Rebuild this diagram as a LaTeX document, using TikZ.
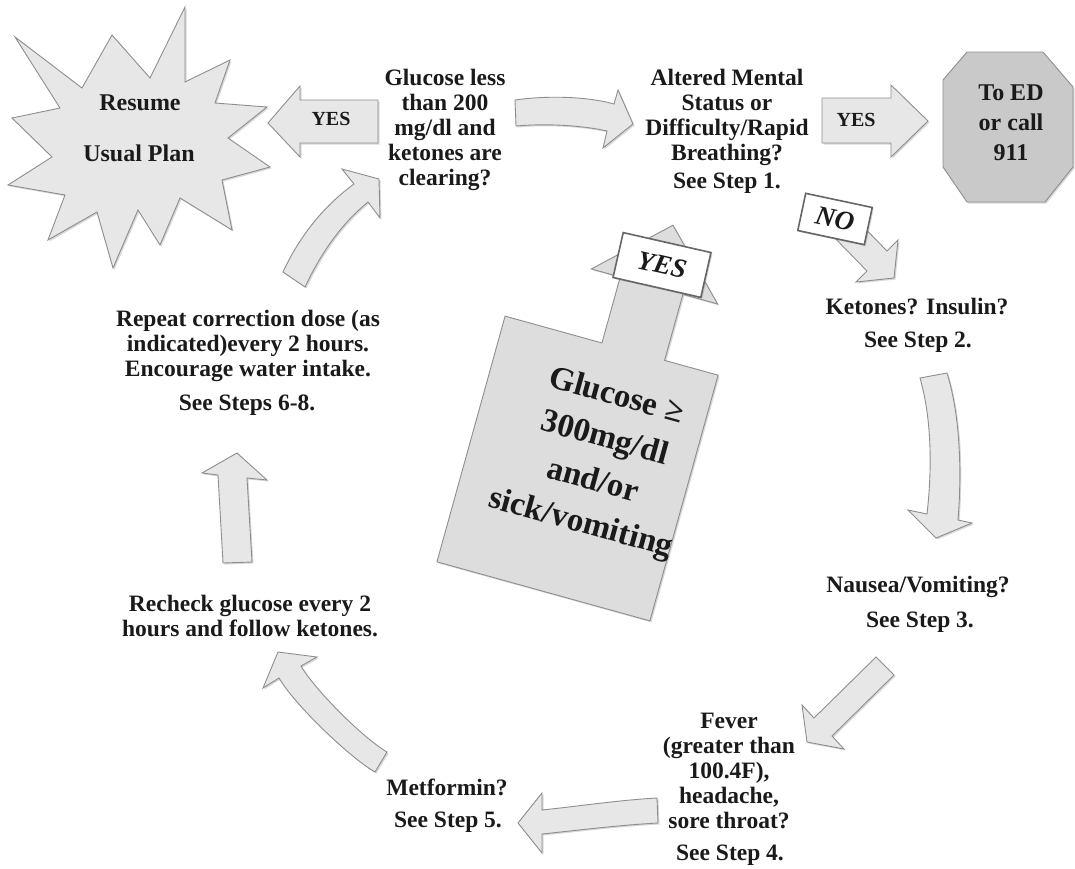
\documentclass[tikz,border=0pt]{standalone}
\usepackage{fontspec}
\setmainfont{Liberation Serif}
\usetikzlibrary{shadows}
\definecolor{txt}{HTML}{1A1A1A}
\definecolor{arrfill}{HTML}{E7E7E7}
\definecolor{arrline}{HTML}{8E8E8E}
\definecolor{octfill}{HTML}{C9C9C9}
\definecolor{boxfill}{HTML}{DDDDDD}
\tikzset{
  blk/.style={fill=arrfill, draw=arrline, line width=0.9pt, line join=miter,
    drop shadow={shadow xshift=1.5pt, shadow yshift=-1.5pt, opacity=.3}},
  lbl/.style={text=txt, font=\bfseries\fontsize{23.5}{25}\selectfont, align=center, inner sep=0pt},
  yeslbl/.style={text=txt, font=\bfseries\fontsize{20}{22}\selectfont, inner sep=0pt},
  biglbl/.style={text=txt, font=\bfseries\fontsize{33}{44}\selectfont, align=center, inner sep=0pt},
  tagbox/.style={fill=white, draw=black!60, line width=1.6pt, text=txt,
    font=\bfseries\itshape\fontsize{27}{27}\selectfont, inner sep=0pt,
    drop shadow={shadow xshift=1.5pt, shadow yshift=-1.5pt, opacity=.3}},
}
\begin{document}
\begin{tikzpicture}[x=1pt,y=-1pt]
\useasboundingbox (0,0) rectangle (1075,868);
\fill[white] (0,0) rectangle (1075,868);

% starburst
\path[blk] (15,37) -- (82,88) -- (112,35) -- (150,78) -- (185,7) -- (185,82) -- (230,60) -- (215,103)
  -- (267,107) -- (228,138) -- (270,167) -- (222,180) -- (232,230) -- (180,198) -- (160,245) -- (138,210)
  -- (113,268) -- (97,212) -- (48,240) -- (65,195) -- (8,185) -- (52,157) -- (12,118) -- (60,108) -- cycle;
\node[lbl, font=\bfseries\fontsize{24}{25}\selectfont] (resume) at (140,103) {Resume};
\node[lbl, font=\bfseries\fontsize{24}{25}\selectfont] (usual) at (139,153) {Usual Plan};

% YES arrow to the left
\path[blk] (378,100) -- (300,100) -- (300,86) -- (268,123) -- (300,157) -- (300,143) -- (378,143) -- cycle;
\node[yeslbl] (yes1) at (331,119) {YES};

% top arrow to the right
\path[blk] (515,100) .. controls (550,95) and (590,97) .. (614,104) -- (618,90) -- (633,124) -- (603,148)
  -- (607,131) .. controls (585,126) and (550,123) .. (516,126) -- cycle;

% YES arrow to ED
\path[blk] (822,98) -- (891,98) -- (891,85) -- (928,121) -- (891,157) -- (891,143) -- (822,143) -- cycle;
\node[yeslbl] (yes2) at (856,120) {YES};

% octagon
\path[blk, fill=octfill] (967,52) -- (1043,52) -- (1073,87) -- (1073,167) -- (1045,202) -- (967,202)
  -- (943,167) -- (943,80) -- cycle;
\node[lbl, font=\bfseries\fontsize{24}{30}\selectfont] (ed) at (1011,123) {To ED\\or call\\911};

% NO arrow
\path[blk] (845,208) -- (887,251) -- (898,240) -- (894,278) -- (856,282) -- (867,271) -- (825,228) -- cycle;
\node[tagbox, rotate=-12, minimum width=68pt, minimum height=38pt] (no) at (835,219) {NO};

% central shape
\begin{scope}[shift={(577.5,468.5)}, rotate=-15.5]
\path[blk, fill=boxfill] (-110.5,-127.5) -- (-10,-127.5) -- (-10,-196) -- (-40,-196) -- (27,-260) -- (91,-196)
  -- (55,-196) -- (55,-127.5) -- (110.5,-127.5) -- (110.5,127.5) -- (-110.5,127.5) -- cycle;
\node[biglbl, rotate=-15.5] (glu) at (18,-13) {Glucose ≥\\300mg/dl\\and/or\\sick/vomiting};
\end{scope}
\node[tagbox, rotate=-12.8, minimum width=90pt, minimum height=46pt] (yes3) at (662,265) {YES};

% right curved arrow down
\path[blk] (920,378) .. controls (932,420) and (932,470) .. (927,514) -- (908,510) -- (936,538) -- (972,523)
  -- (958,520) .. controls (962,470) and (960,415) .. (947,373) -- cycle;

% diagonal arrow down-left
\path[blk] (876,657) -- (894,675) -- (832,736) -- (844,749) -- (807,742) -- (802,705) -- (814,718) -- cycle;

% bottom arrow to the left
\path[blk] (657,798) .. controls (620,800) and (580,806) .. (542,810) -- (542,793) -- (518,823) -- (542,853)
  -- (542,834) .. controls (580,830) and (620,825) .. (658,823) -- cycle;

% lower-left curved arrow
\path[blk] (387,752) .. controls (363,738) and (315,690) .. (301,666) -- (317,657) -- (278,652) -- (263,688)
  -- (279,678) .. controls (294,704) and (349,757) .. (375,772) -- cycle;

% up arrow
\path[blk] (223,563) -- (218,475) -- (202,473) -- (237,453) -- (267,480) -- (247,478) -- (252,562) -- cycle;

% upper-left curved arrow
\path[blk] (283,272) .. controls (300,235) and (325,205) .. (354,184) -- (342,169) -- (379,179) -- (380,218)
  -- (368,202) .. controls (340,225) and (320,255) .. (305,287) -- cycle;

% texts
\node[lbl] (q1) at (445,130) {Glucose less\\than 200\\mg/dl and\\ketones are\\clearing?};
\node[lbl] (q2) at (727,117) {Altered Mental\\Status or\\Difficulty/Rapid\\Breathing?};
\node[lbl] (s1) at (727,183) {See Step 1.};
\node[lbl] (q3) at (917,307) {Ketones? Insulin?};
\node[lbl] (s2) at (918,342) {See Step 2.};
\node[lbl] (q4) at (918,587) {Nausea/Vomiting?};
\node[lbl] (s3) at (920,622) {See Step 3.};
\node[lbl] (q5) at (729,771) {Fever\\(greater than\\100.4F),\\headache,\\sore throat?};
\node[lbl] (s4) at (730,855) {See Step 4.};
\node[lbl] (q6) at (447,787) {Metformin?};
\node[lbl] (s5) at (448,822) {See Step 5.};
\node[lbl] (q7) at (250,616) {Recheck glucose every 2\\hours and follow ketones.};
\node[lbl] (q8) at (248,346) {Repeat correction dose (as\\indicated)every 2 hours.\\Encourage water intake.};
\node[lbl] (s68) at (247,405) {See Steps 6-8.};
\end{tikzpicture}
\end{document}
